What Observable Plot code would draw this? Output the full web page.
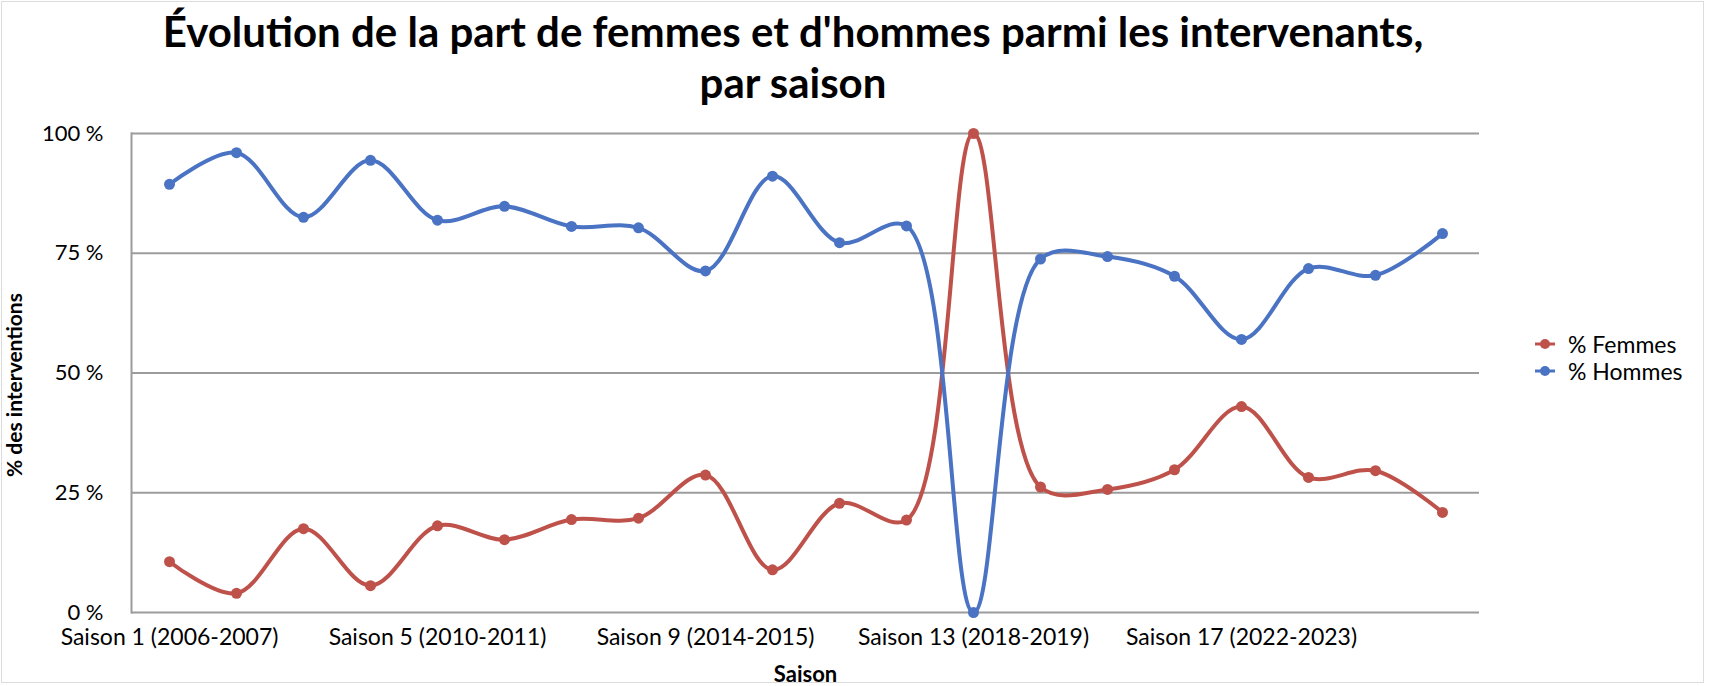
<!DOCTYPE html>
<html>
<head>
<meta charset="utf-8">
<script src="https://cdn.jsdelivr.net/npm/d3@7"></script>
<script src="https://cdn.jsdelivr.net/npm/@observablehq/plot@0.6"></script>
<style>
  html, body { margin: 0; padding: 0; background: #fff; overflow: hidden; }
  #wrap { position: relative; width: 1710px; height: 686px; font-family: Lato, "Open Sans", sans-serif; }
  #frame { position: absolute; left: 1px; top: 1px; width: 1703px; height: 682px; border: 1px solid #dcdcdc; box-sizing: border-box; pointer-events: none; }
  #title { position: absolute; left: 0; top: 0; width: 1586px; text-align: center; font-weight: 700; font-size: 42px; line-height: 51px; padding-top: 6px; color: #000; }
  #chart { position: absolute; left: 0; top: 105px; }
  #legend { position: absolute; left: 1534px; top: 330px; font-size: 23px; color: #000; }
  .row { display: flex; align-items: center; height: 27px; }
  .row svg { margin-right: 12px; }
</style>
</head>
<body>
<div id="wrap">
  <div id="frame"></div>
  <div id="title">Évolution de la part de femmes et d'hommes parmi les intervenants,<br>par saison</div>
  <div id="chart"></div>
  <div id="legend"></div>
</div>
<script>
// ---- Data ----
const saisons = [
  "Saison 1 (2006-2007)", "Saison 2 (2007-2008)", "Saison 3 (2008-2009)", "Saison 4 (2009-2010)",
  "Saison 5 (2010-2011)", "Saison 6 (2011-2012)", "Saison 7 (2012-2013)", "Saison 8 (2013-2014)",
  "Saison 9 (2014-2015)", "Saison 10 (2015-2016)", "Saison 11 (2016-2017)", "Saison 12 (2017-2018)",
  "Saison 13 (2018-2019)", "Saison 14 (2019-2020)", "Saison 15 (2020-2021)", "Saison 16 (2021-2022)",
  "Saison 17 (2022-2023)", "Saison 18 (2023-2024)", "Saison 19 (2024-2025)", "Saison 20 (2025-2026)"
];
const femmes = [10.6, 4.0, 17.5, 5.6, 18.1, 15.2, 19.4, 19.7, 28.7, 8.9, 22.8, 19.3, 100, 26.2, 25.7, 29.8, 43.0, 28.2, 29.6, 20.9];
const hommes = [89.4, 96.0, 82.5, 94.4, 81.9, 84.8, 80.6, 80.3, 71.3, 91.1, 77.2, 80.7, 0, 73.8, 74.3, 70.2, 57.0, 71.8, 70.4, 79.1];
const xTickLabels = ["Saison 1 (2006-2007)", "Saison 5 (2010-2011)", "Saison 9 (2014-2015)", "Saison 13 (2018-2019)", "Saison 17 (2022-2023)"];
const yTicks = [0, 25, 50, 75, 100];
const seriesNames = ["% Femmes", "% Hommes"];
const colors = ["#BE524B", "#4A73C4"];

const rows = [];
saisons.forEach((s, i) => {
  rows.push({saison: s, serie: seriesNames[0], value: femmes[i]});
  rows.push({saison: s, serie: seriesNames[1], value: hommes[i]});
});

const chart = Plot.plot({
  width: 1710,
  height: 581,
  marginTop: 28,
  marginBottom: 74,
  marginLeft: 131,
  marginRight: 231,
  style: {fontFamily: "Lato, 'Open Sans', sans-serif", fontSize: "23px", color: "#000", background: "transparent"},
  x: {type: "point", domain: saisons, padding: 0.5},
  y: {domain: [0, 100]},
  color: {domain: seriesNames, range: colors},
  marks: [
    Plot.ruleY(yTicks, {stroke: "#9c9c9c", strokeWidth: 2}),
    Plot.frame({anchor: "left", stroke: "#9c9c9c", strokeWidth: 2}),
    Plot.axisY({ticks: yTicks, tickSize: 0, tickPadding: 28, tickFormat: d => d + " %", label: null, fontSize: 22}),
    Plot.axisX({ticks: xTickLabels, tickSize: 0, tickPadding: 16, label: null, fontSize: 23}),
    Plot.text(["% des interventions"], {frameAnchor: "left", dx: -116, dy: 12, rotate: -90, textAnchor: "middle", lineAnchor: "middle", fontWeight: "bold", fontSize: 21, fill: "#000"}),
    Plot.text(["Saison"], {frameAnchor: "bottom", dy: 62, textAnchor: "middle", lineAnchor: "middle", fontWeight: "bold", fontSize: 22, fill: "#000"}),
    Plot.line(rows, {x: "saison", y: "value", stroke: "serie", strokeWidth: 4, curve: "catmull-rom"}),
    Plot.dot(rows, {x: "saison", y: "value", fill: "serie", r: 5.5})
  ]
});
document.getElementById("chart").appendChild(chart);

// Legend
const legend = d3.select("#legend");
seriesNames.forEach((name, i) => {
  const row = legend.append("div").attr("class", "row");
  const svg = row.append("svg").attr("width", 22).attr("height", 14);
  svg.append("line").attr("x1", 1).attr("x2", 21).attr("y1", 7).attr("y2", 7).attr("stroke", colors[i]).attr("stroke-width", 3);
  svg.append("circle").attr("cx", 11).attr("cy", 7).attr("r", 5).attr("fill", colors[i]);
  row.append("span").text(name);
});
</script>
</body>
</html>
